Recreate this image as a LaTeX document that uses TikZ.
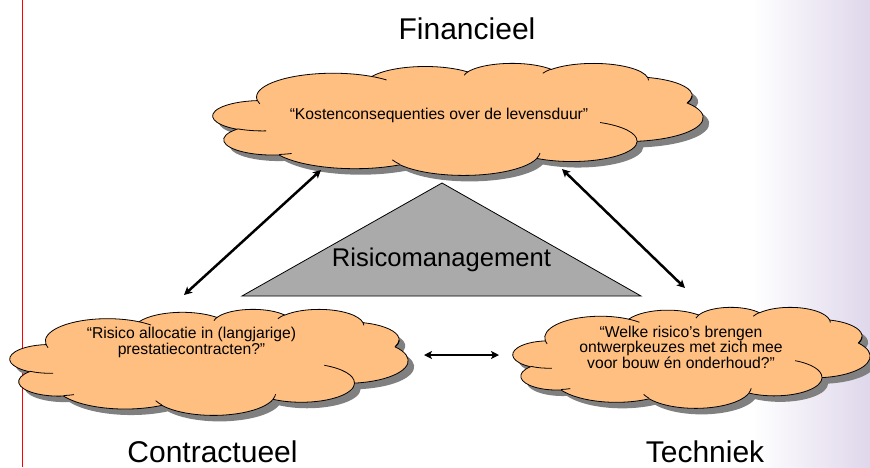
\documentclass[tikz,border=0pt]{standalone}
\usepackage{fontspec}
\setmainfont{Liberation Sans}
\usetikzlibrary{arrows.meta}
\definecolor{cloudfill}{RGB}{255,191,128}
\definecolor{shadowgray}{RGB}{128,128,128}
\definecolor{trigray}{RGB}{170,170,170}
\definecolor{lav}{RGB}{223,215,235}
\makeatletter
\newcommand\oocomp[5]{%
  \pgfmathsetmacro\oo@a{#4}%
  \pgfmathsetmacro\oo@b{(#4)+(#5)}%
  \pgfmathsetmacro\oo@ti{atan2(#2*sin(\oo@a),#3*cos(\oo@a))}%
  \pgfmathsetmacro\oo@tii{atan2(#2*sin(\oo@b),#3*cos(\oo@b))}%
  \pgfmathsetmacro\oo@d{\oo@tii-\oo@ti}%
  \ifdim #5pt>0pt
    \ifdim \oo@d pt<0pt \pgfmathsetmacro\oo@d{\oo@d+360}\fi
  \else
    \ifdim \oo@d pt>0pt \pgfmathsetmacro\oo@d{\oo@d-360}\fi
  \fi
  \expandafter\xdef\csname ooS#1\endcsname{\oo@ti}%
  \expandafter\xdef\csname ooD#1\endcsname{\oo@d}%
}
\makeatother
% outer outline arcs
\oocomp{a}{67.53}{91.90}{-190.4875}{123.7805}
\oocomp{b}{53.33}{72.67}{-144.1024}{89.9452}
\oocomp{c}{43.65}{59.45}{-145.8079}{99.7230}
\oocomp{d}{48.57}{65.95}{-130.9861}{117.2417}
\oocomp{e}{53.33}{72.73}{-78.7089}{109.0269}
\oocomp{f}{67.75}{92.20}{-46.2673}{130.2690}
\oocomp{g}{57.85}{78.67}{0.6250}{114.0333}
\oocomp{h}{67.52}{92.15}{22.4516}{115.1726}
\oocomp{i}{77.20}{105.43}{66.2426}{75.7110}
\oocomp{j}{43.60}{59.18}{-274.9421}{146.7356}
\oocomp{k}{43.45}{59.45}{-246.8285}{152.5189}
% inner seam arcs
\oocomp{A}{43.45}{59.45}{86.7420}{26.4295}
\oocomp{B}{43.60}{59.18}{73.6105}{11.4475}
\oocomp{C}{67.52}{92.15}{137.6242}{14.0811}
\oocomp{D}{67.52}{92.15}{6.4533}{15.9984}
\oocomp{E}{57.85}{78.67}{-70.2924}{70.9174}
\oocomp{F}{53.33}{72.73}{30.3180}{-27.7515}
\oocomp{G}{48.57}{65.95}{-13.7443}{14.8589}
\oocomp{H}{48.57}{65.95}{-149.1815}{18.1954}
\oocomp{I}{43.65}{59.45}{-163.4943}{17.6864}
\oocomp{J}{67.53}{91.90}{-66.7070}{12.3194}
\oocomp{K}{67.53}{91.90}{157.6544}{11.8582}
\newcommand\ooOuter{(39.00,143.70)
 arc[start angle=\ooSa,delta angle=\ooDa,x radius=67.53,y radius=91.90]
 arc[start angle=\ooSb,delta angle=\ooDb,x radius=53.33,y radius=72.67]
 arc[start angle=\ooSc,delta angle=\ooDc,x radius=43.65,y radius=59.45]
 arc[start angle=\ooSd,delta angle=\ooDd,x radius=48.57,y radius=65.95]
 arc[start angle=\ooSe,delta angle=\ooDe,x radius=53.33,y radius=72.73]
 arc[start angle=\ooSf,delta angle=\ooDf,x radius=67.75,y radius=92.20]
 arc[start angle=\ooSg,delta angle=\ooDg,x radius=57.85,y radius=78.67]
 arc[start angle=\ooSh,delta angle=\ooDh,x radius=67.52,y radius=92.15]
 arc[start angle=\ooSi,delta angle=\ooDi,x radius=77.20,y radius=105.43]
 arc[start angle=\ooSj,delta angle=\ooDj,x radius=43.60,y radius=59.18]
 arc[start angle=\ooSk,delta angle=\ooDk,x radius=43.45,y radius=59.45]
 -- cycle}
\newcommand\ooSeams{
 (46.93,261.77) arc[start angle=\ooSA,delta angle=\ooDA,x radius=43.45,y radius=59.45]
 (69.28,348.99) arc[start angle=\ooSB,delta angle=\ooDB,x radius=43.60,y radius=59.18]
 (164.78,390.90) arc[start angle=\ooSC,delta angle=\ooDC,x radius=67.52,y radius=92.15]
 (288.27,347.51) arc[start angle=\ooSD,delta angle=\ooDD,x radius=67.52,y radius=92.15]
 (341.29,229.54) arc[start angle=\ooSE,delta angle=\ooDE,x radius=57.85,y radius=78.67]
 (417.98,153.54) arc[start angle=\ooSF,delta angle=\ooDF,x radius=53.33,y radius=72.73]
 (383.24,54.26) arc[start angle=\ooSG,delta angle=\ooDG,x radius=48.57,y radius=65.95]
 (290.78,39.52) arc[start angle=\ooSH,delta angle=\ooDH,x radius=48.57,y radius=65.95]
 (221.41,47.20) arc[start angle=\ooSI,delta angle=\ooDI,x radius=43.65,y radius=59.45]
 (140.00,51.92) arc[start angle=\ooSJ,delta angle=\ooDJ,x radius=67.53,y radius=91.90]
 (41.27,157.89) arc[start angle=\ooSK,delta angle=\ooDK,x radius=67.53,y radius=91.90]
}
\newcommand\ooCloud[4]{%
  \pgfmathsetmacro\ooxs{#3/432}\pgfmathsetmacro\ooys{#4/432}%
  \begin{scope}[shift={(#1,#2)},x=\ooxs pt,y=-\ooys pt]
    \begin{scope}[xshift=6pt,yshift=-6pt]
      \fill[shadowgray] \ooOuter;
    \end{scope}
    \filldraw[fill=cloudfill,draw=black,line width=0.8pt] \ooOuter;
    \draw[line width=0.8pt] \ooSeams;
  \end{scope}}
\begin{document}
\begin{tikzpicture}[x=1pt,y=-1pt,
  lbl/.style={font=\fontsize{30}{36}\selectfont, anchor=base, inner sep=0},
  cloudtext/.style={font=\fontsize{15.7}{15.5}\selectfont, align=center, inner sep=0},
  tip/.tip={Stealth[length=8pt,width=8pt,inset=2pt]},
  biarrow/.style={line width=2.5pt, tip-tip}]
\useasboundingbox (0,0) rectangle (870,467);
\fill[white] (0,0) rectangle (870,467);
\shade[left color=white,right color=lav] (752,0) rectangle (870,467);
\draw[red,line width=1pt] (22,0) -- (22,467);
% clouds
\ooCloud{213}{63}{490}{112}
\ooCloud{10}{309}{398}{106}
\ooCloud{513}{307}{357}{101}
% triangle
\coordinate (tA) at (442,183);
\coordinate (tL) at (242,296);
\coordinate (tR) at (641,296);
\draw[fill=trigray,line width=0.8pt] (tL) -- (tA) -- (tR) -- cycle;
\node[font=\fontsize{25.6}{30}\selectfont, anchor=base, inner sep=0] (risk) at (441.5,266) {Risicomanagement};
% cloud texts
\node[cloudtext, anchor=base] (fintxt) at (439,119) {“Kostenconsequenties over de levensduur”};
\node[cloudtext] (contxt) at (191.5,342.5) {“Risico allocatie in (langjarige)\\prestatiecontracten?”};
\node[cloudtext] (tectxt) at (681,347) {“Welke risico’s brengen\\ontwerpkeuzes met zich mee\\voor bouw én onderhoud?”};
% labels
\node[lbl] (finlbl) at (467,39) {Financieel};
\node[lbl] (conlbl) at (212.5,462) {Contractueel};
\node[lbl] (teclbl) at (705,462) {Techniek};
% arrows
\coordinate (c1) at (184,295);
\coordinate (f1) at (321,170);
\coordinate (f2) at (562,169);
\coordinate (t1) at (685,288);
\coordinate (c2) at (424,355);
\coordinate (t2) at (499,355);
\draw[biarrow] (c1) -- (f1);
\draw[biarrow] (f2) -- (t1);
\draw[biarrow] (c2) -- (t2);
\end{tikzpicture}
\end{document}
